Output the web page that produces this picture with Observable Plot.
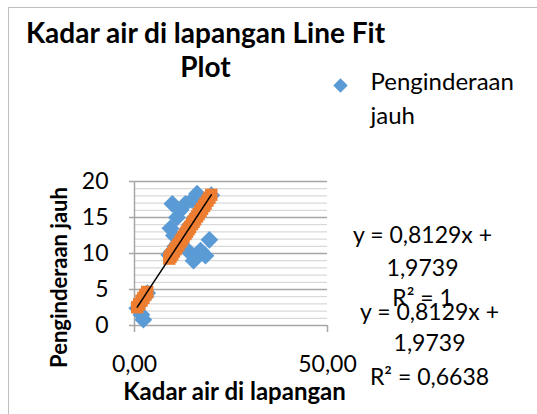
<!DOCTYPE html>
<html>
<head>
<meta charset="utf-8">
<script src="https://cdn.jsdelivr.net/npm/d3@7"></script>
<script src="https://cdn.jsdelivr.net/npm/@observablehq/plot@0.6"></script>
<style>
  html, body { margin: 0; padding: 0; background: #fff; overflow: hidden; }
  #wrap { position: relative; width: 537px; height: 414px; }
  #border { position: absolute; left: 8px; top: 7px; width: 700px; height: 600px; border: 1px solid #bfbfbf; box-sizing: border-box; }
  #chart { position: absolute; left: 0; top: 0; }
</style>
</head>
<body>
<div id="wrap"><div id="border"></div><div id="chart"></div></div>
<script>
// Kadar air di lapangan (x)
const kadarAir = [0.7, 1.2, 1.8, 2.3, 2.8, 3.3,
  9.0, 9.3, 9.6, 9.8, 10.2, 10.6, 11.0, 11.4, 11.9, 12.3, 12.7, 13.2, 13.6,
  14.0, 14.4, 14.9, 15.3, 15.7, 16.2, 16.6, 17.1, 17.5, 18.0, 18.4, 18.9, 19.4, 19.9];
// Penginderaan jauh (observed)
const penginderaan = [2.4, 3.0, 1.5, 0.8, 4.0, 4.5,
  9.8, 13.5, 10.2, 16.9, 12.5, 11.0, 15.0, 11.5, 16.0, 12.2, 12.6, 16.9, 13.3,
  10.3, 14.0, 17.4, 9.0, 15.0, 18.3, 15.6, 10.4, 16.5, 16.8, 9.7, 17.5, 11.9, 18.1];
// Predicted Penginderaan jauh
const predicted = [2.54, 2.95, 3.44, 3.84, 4.25, 4.66,
  9.29, 9.53, 9.78, 9.94, 10.27, 10.59, 10.92, 11.24, 11.65, 11.97, 12.30, 12.70, 13.03,
  13.36, 13.68, 14.09, 14.41, 14.74, 15.14, 15.47, 15.88, 16.20, 16.61, 16.93, 17.34, 17.74, 18.15];

const xTicks = [0, 50];
const yMajorTicks = [0, 5, 10, 15, 20];
const yMinorTicks = [1, 2, 3, 4, 6, 7, 8, 9, 11, 12, 13, 14, 16, 17, 18, 19];

const titleLines = ["Kadar air di lapangan Line Fit", "Plot"];
const legendLines = ["Penginderaan", "jauh"];
const eq1 = ["y = 0,8129x +", "1,9739", "R² = 1"];
const eq2 = ["y = 0,8129x +", "1,9739", "R² = 0,6638"];
const xLabel = "Kadar air di lapangan";
const yLabel = "Penginderaan jauh";

const obs = kadarAir.map((x, i) => ({x, y: penginderaan[i]}));
const fit = kadarAir.map((x, i) => ({x, y: predicted[i]}));

const ML = 134, MT = 181;
const font = "Lato, 'Open Sans', sans-serif";
const blue = "#5b9bd5", orange = "#ed7d31";

function label(text, px, py, opts = {}) {
  return Plot.text([text], {
    text: d => d, frameAnchor: "top-left", dx: px - ML, dy: py - MT,
    lineAnchor: "middle", fill: "#000", fontFamily: font, ...opts
  });
}

const fmt = d => d.toFixed(2).replace(".", ",");

const chart = Plot.plot({
  width: 537, height: 414,
  marginLeft: ML, marginRight: 537 - 327, marginTop: MT, marginBottom: 414 - 325,
  style: {fontFamily: font, background: "transparent", overflow: "visible"},
  x: {domain: [0, 50]},
  y: {domain: [0, 20]},
  marks: [
    Plot.ruleY(yMinorTicks, {stroke: "#d0d0d0", strokeWidth: 1}),
    Plot.ruleY(yMajorTicks.filter(d => d > 0), {stroke: "#a6a6a6", strokeWidth: 1.5}),
    Plot.ruleY([0], {stroke: "#a6a6a6", strokeWidth: 1.5}),
    Plot.ruleX([0], {stroke: "#a6a6a6", strokeWidth: 1.5}),
    Plot.axisX(xTicks, {tickSize: 7, tickPadding: 23, tickFormat: fmt, fontSize: 23, stroke: "#a6a6a6", strokeWidth: 1.5, label: null, fill: "#000"}),
    Plot.axisY(yMajorTicks, {tickSize: 5, tickPadding: 21, tickFormat: d => String(d), fontSize: 23, stroke: "#a6a6a6", strokeWidth: 1.5, label: null, fill: "#000"}),
    Plot.dot(obs, {x: "x", y: "y", symbol: "diamond2", r: 8, fill: blue, stroke: "none"}),
    Plot.dot(fit, {x: "x", y: "y", symbol: "square", r: 7, fill: orange, stroke: "none"}),
    Plot.line(fit, {x: "x", y: "y", stroke: "#000", strokeWidth: 1.5}),
    label(titleLines[0], 205, 34, {fontSize: 28, fontWeight: "bold", textAnchor: "middle"}),
    label(titleLines[1], 205, 68, {fontSize: 28, fontWeight: "bold", textAnchor: "middle"}),
    Plot.dot([0], {frameAnchor: "top-left", dx: 340 - ML, dy: 85 - MT, symbol: "diamond2", r: 6.5, fill: blue, stroke: "none"}),
    label(legendLines[0], 370, 82, {fontSize: 24, textAnchor: "start"}),
    label(legendLines[1], 370, 116, {fontSize: 24, textAnchor: "start"}),
    label(eq1[0], 422, 235, {fontSize: 23, textAnchor: "middle"}),
    label(eq1[1], 422, 268, {fontSize: 23, textAnchor: "middle"}),
    label(eq1[2], 422, 298, {fontSize: 23, textAnchor: "middle"}),
    label(eq2[0], 429, 312, {fontSize: 23, textAnchor: "middle"}),
    label(eq2[1], 429, 343, {fontSize: 23, textAnchor: "middle"}),
    label(eq2[2], 429, 377, {fontSize: 23, textAnchor: "middle"}),
    label(xLabel, 234, 392, {fontSize: 24, fontWeight: "bold", textAnchor: "middle"}),
    label(yLabel, 59, 277, {fontSize: 22, fontWeight: "bold", textAnchor: "middle", rotate: -90})
  ]
});
document.getElementById("chart").appendChild(chart);
</script>
</body>
</html>
